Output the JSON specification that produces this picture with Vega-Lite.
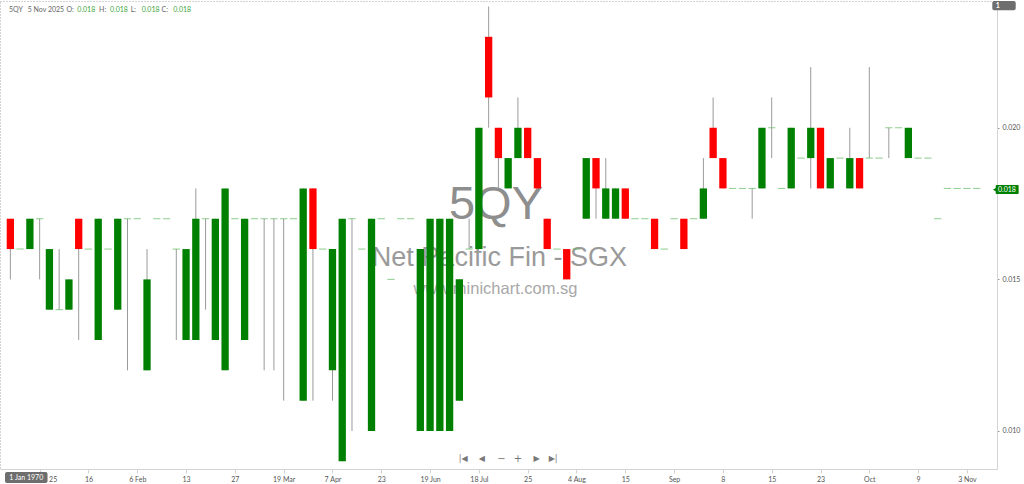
{
  "$schema": "https://vega.github.io/schema/vega-lite/v6.json",
  "width": 997,
  "height": 468,
  "autosize": {"type": "none"},
  "padding": {"left": 0, "top": 1, "right": 27, "bottom": 15},
  "background": "white",
  "data": {"values": [{}]},
  "datasets": {
    "candles": [
      {"k": 0, "o": 0.017, "h": 0.017, "l": 0.015, "c": 0.016},
      {"k": 1, "o": 0.016, "h": 0.016, "l": 0.016, "c": 0.016},
      {"k": 2, "o": 0.016, "h": 0.017, "l": 0.016, "c": 0.017},
      {"k": 3, "o": 0.017, "h": 0.017, "l": 0.015, "c": 0.017},
      {"k": 4, "o": 0.014, "h": 0.016, "l": 0.014, "c": 0.016},
      {"k": 5, "o": 0.014, "h": 0.016, "l": 0.014, "c": 0.014},
      {"k": 6, "o": 0.014, "h": 0.015, "l": 0.014, "c": 0.015},
      {"k": 7, "o": 0.017, "h": 0.017, "l": 0.013, "c": 0.016},
      {"k": 8, "o": 0.016, "h": 0.016, "l": 0.016, "c": 0.016},
      {"k": 9, "o": 0.013, "h": 0.017, "l": 0.013, "c": 0.017},
      {"k": 10, "o": 0.016, "h": 0.016, "l": 0.016, "c": 0.016},
      {"k": 11, "o": 0.014, "h": 0.017, "l": 0.014, "c": 0.017},
      {"k": 12, "o": 0.017, "h": 0.017, "l": 0.012, "c": 0.017},
      {"k": 13, "o": 0.017, "h": 0.017, "l": 0.017, "c": 0.017},
      {"k": 14, "o": 0.012, "h": 0.016, "l": 0.012, "c": 0.015},
      {"k": 15, "o": 0.017, "h": 0.017, "l": 0.017, "c": 0.017},
      {"k": 16, "o": 0.017, "h": 0.017, "l": 0.017, "c": 0.017},
      {"k": 17, "o": 0.016, "h": 0.016, "l": 0.013, "c": 0.016},
      {"k": 18, "o": 0.013, "h": 0.016, "l": 0.013, "c": 0.016},
      {"k": 19, "o": 0.013, "h": 0.018, "l": 0.013, "c": 0.017},
      {"k": 20, "o": 0.017, "h": 0.017, "l": 0.014, "c": 0.017},
      {"k": 21, "o": 0.013, "h": 0.017, "l": 0.013, "c": 0.017},
      {"k": 22, "o": 0.012, "h": 0.018, "l": 0.012, "c": 0.018},
      {"k": 23, "o": 0.017, "h": 0.017, "l": 0.017, "c": 0.017},
      {"k": 24, "o": 0.013, "h": 0.017, "l": 0.013, "c": 0.017},
      {"k": 25, "o": 0.017, "h": 0.017, "l": 0.017, "c": 0.017},
      {"k": 26, "o": 0.017, "h": 0.017, "l": 0.012, "c": 0.017},
      {"k": 27, "o": 0.017, "h": 0.017, "l": 0.012, "c": 0.017},
      {"k": 28, "o": 0.017, "h": 0.017, "l": 0.011, "c": 0.017},
      {"k": 29, "o": 0.017, "h": 0.017, "l": 0.017, "c": 0.017},
      {"k": 30, "o": 0.011, "h": 0.018, "l": 0.011, "c": 0.018},
      {"k": 31, "o": 0.018, "h": 0.018, "l": 0.011, "c": 0.016},
      {"k": 32, "o": 0.016, "h": 0.016, "l": 0.016, "c": 0.016},
      {"k": 33, "o": 0.012, "h": 0.016, "l": 0.011, "c": 0.016},
      {"k": 34, "o": 0.009, "h": 0.017, "l": 0.009, "c": 0.017},
      {"k": 35, "o": 0.017, "h": 0.017, "l": 0.010, "c": 0.017},
      {"k": 36, "o": 0.016, "h": 0.016, "l": 0.016, "c": 0.016},
      {"k": 37, "o": 0.010, "h": 0.017, "l": 0.010, "c": 0.017},
      {"k": 38, "o": 0.017, "h": 0.017, "l": 0.017, "c": 0.017},
      {"k": 39, "o": 0.015, "h": 0.015, "l": 0.015, "c": 0.015},
      {"k": 40, "o": 0.017, "h": 0.017, "l": 0.017, "c": 0.017},
      {"k": 41, "o": 0.017, "h": 0.017, "l": 0.017, "c": 0.017},
      {"k": 42, "o": 0.010, "h": 0.016, "l": 0.010, "c": 0.016},
      {"k": 43, "o": 0.010, "h": 0.017, "l": 0.010, "c": 0.017},
      {"k": 44, "o": 0.010, "h": 0.017, "l": 0.010, "c": 0.017},
      {"k": 45, "o": 0.010, "h": 0.017, "l": 0.010, "c": 0.017},
      {"k": 46, "o": 0.011, "h": 0.015, "l": 0.011, "c": 0.015},
      {"k": 47, "o": 0.016, "h": 0.017, "l": 0.016, "c": 0.016},
      {"k": 48, "o": 0.016, "h": 0.020, "l": 0.016, "c": 0.020},
      {"k": 49, "o": 0.023, "h": 0.024, "l": 0.020, "c": 0.021},
      {"k": 50, "o": 0.020, "h": 0.020, "l": 0.018, "c": 0.019},
      {"k": 51, "o": 0.018, "h": 0.019, "l": 0.018, "c": 0.019},
      {"k": 52, "o": 0.019, "h": 0.021, "l": 0.019, "c": 0.020},
      {"k": 53, "o": 0.020, "h": 0.020, "l": 0.019, "c": 0.019},
      {"k": 54, "o": 0.019, "h": 0.019, "l": 0.018, "c": 0.018},
      {"k": 55, "o": 0.017, "h": 0.017, "l": 0.016, "c": 0.016},
      {"k": 56, "o": 0.016, "h": 0.016, "l": 0.016, "c": 0.016},
      {"k": 57, "o": 0.016, "h": 0.016, "l": 0.015, "c": 0.015},
      {"k": 58, "o": 0.016, "h": 0.016, "l": 0.016, "c": 0.016},
      {"k": 59, "o": 0.017, "h": 0.019, "l": 0.017, "c": 0.019},
      {"k": 60, "o": 0.019, "h": 0.019, "l": 0.017, "c": 0.018},
      {"k": 61, "o": 0.017, "h": 0.019, "l": 0.017, "c": 0.018},
      {"k": 62, "o": 0.017, "h": 0.018, "l": 0.017, "c": 0.018},
      {"k": 63, "o": 0.018, "h": 0.018, "l": 0.017, "c": 0.017},
      {"k": 64, "o": 0.017, "h": 0.017, "l": 0.017, "c": 0.017},
      {"k": 65, "o": 0.017, "h": 0.017, "l": 0.017, "c": 0.017},
      {"k": 66, "o": 0.017, "h": 0.017, "l": 0.016, "c": 0.016},
      {"k": 67, "o": 0.016, "h": 0.016, "l": 0.016, "c": 0.016},
      {"k": 68, "o": 0.017, "h": 0.017, "l": 0.017, "c": 0.017},
      {"k": 69, "o": 0.017, "h": 0.017, "l": 0.016, "c": 0.016},
      {"k": 70, "o": 0.017, "h": 0.017, "l": 0.017, "c": 0.017},
      {"k": 71, "o": 0.017, "h": 0.019, "l": 0.017, "c": 0.018},
      {"k": 72, "o": 0.020, "h": 0.021, "l": 0.019, "c": 0.019},
      {"k": 73, "o": 0.019, "h": 0.019, "l": 0.018, "c": 0.018},
      {"k": 74, "o": 0.018, "h": 0.018, "l": 0.018, "c": 0.018},
      {"k": 75, "o": 0.018, "h": 0.018, "l": 0.018, "c": 0.018},
      {"k": 76, "o": 0.018, "h": 0.018, "l": 0.017, "c": 0.018},
      {"k": 77, "o": 0.018, "h": 0.020, "l": 0.018, "c": 0.020},
      {"k": 78, "o": 0.020, "h": 0.021, "l": 0.019, "c": 0.020},
      {"k": 79, "o": 0.018, "h": 0.018, "l": 0.018, "c": 0.018},
      {"k": 80, "o": 0.018, "h": 0.020, "l": 0.018, "c": 0.020},
      {"k": 81, "o": 0.019, "h": 0.019, "l": 0.019, "c": 0.019},
      {"k": 82, "o": 0.019, "h": 0.022, "l": 0.018, "c": 0.020},
      {"k": 83, "o": 0.020, "h": 0.020, "l": 0.018, "c": 0.018},
      {"k": 84, "o": 0.018, "h": 0.019, "l": 0.018, "c": 0.019},
      {"k": 85, "o": 0.019, "h": 0.019, "l": 0.019, "c": 0.019},
      {"k": 86, "o": 0.018, "h": 0.020, "l": 0.018, "c": 0.019},
      {"k": 87, "o": 0.019, "h": 0.019, "l": 0.018, "c": 0.018},
      {"k": 88, "o": 0.019, "h": 0.022, "l": 0.019, "c": 0.019},
      {"k": 89, "o": 0.019, "h": 0.019, "l": 0.019, "c": 0.019},
      {"k": 90, "o": 0.020, "h": 0.020, "l": 0.019, "c": 0.020},
      {"k": 91, "o": 0.020, "h": 0.020, "l": 0.020, "c": 0.020},
      {"k": 92, "o": 0.019, "h": 0.020, "l": 0.019, "c": 0.020},
      {"k": 93, "o": 0.019, "h": 0.019, "l": 0.019, "c": 0.019},
      {"k": 94, "o": 0.019, "h": 0.019, "l": 0.019, "c": 0.019},
      {"k": 95, "o": 0.017, "h": 0.017, "l": 0.017, "c": 0.017},
      {"k": 96, "o": 0.018, "h": 0.018, "l": 0.018, "c": 0.018},
      {"k": 97, "o": 0.018, "h": 0.018, "l": 0.018, "c": 0.018},
      {"k": 98, "o": 0.018, "h": 0.018, "l": 0.018, "c": 0.018},
      {"k": 99, "o": 0.018, "h": 0.018, "l": 0.018, "c": 0.018}
    ]
  },
  "layer": [
    {
      "mark": {"type": "text", "font": "Liberation Sans", "fontSize": 47, "color": "#8e8e8e", "align": "center", "baseline": "alphabetic"},
      "encoding": {
        "x": {"datum": 49.75, "type": "quantitative"},
        "y": {"datum": 0.017005, "type": "quantitative"},
        "text": {"value": "5QY"}
      }
    },
    {
      "mark": {"type": "text", "font": "Liberation Sans", "fontSize": 27, "color": "#9a9a9a", "align": "center", "baseline": "alphabetic"},
      "encoding": {
        "x": {"datum": 50.1, "type": "quantitative"},
        "y": {"datum": 0.015439, "type": "quantitative"},
        "text": {"value": "Net Pacific Fin - SGX"}
      }
    },
    {
      "mark": {"type": "text", "font": "Liberation Sans", "fontSize": 16.5, "color": "#a8a8a8", "align": "center", "baseline": "alphabetic"},
      "encoding": {
        "x": {"datum": 49.7, "type": "quantitative"},
        "y": {"datum": 0.014505, "type": "quantitative"},
        "text": {"value": "www.minichart.com.sg"}
      }
    },
    {
      "data": {"name": "candles"},
      "mark": {"type": "rule", "color": "#9a9a9a", "strokeWidth": 1},
      "encoding": {
        "x": {
          "field": "k", "type": "quantitative",
          "scale": {"domain": [-0.55, 100.57], "nice": false, "zero": false},
          "axis": {
            "title": null, "grid": false,
            "values": [3, 8, 13, 18, 23, 28, 33, 38, 43, 48, 53, 58, 63, 68, 73, 78, 83, 88, 93, 98],
            "labelExpr": "['25','16','6 Feb','13','27','19 Mar','7 Apr','23','19 Jun','18 Jul','25','4 Aug','15','Sep','8','15','23','Oct','9','3 Nov'][round((datum.value - 3) / 5)]",
            "labelOffset": {"condition": {"test": "datum.value == 3", "value": 13}, "value": 0},
            "domainColor": "#d4d4d4", "tickColor": "#d4d4d4", "tickSize": 4,
            "labelFont": "Lato", "labelFontSize": 7, "labelColor": "#555555", "labelPadding": 2
          }
        },
        "y": {
          "field": "l", "type": "quantitative",
          "scale": {"domain": [0.008746, 0.024181], "nice": false, "zero": false},
          "axis": {
            "title": null, "grid": false, "orient": "right",
            "values": [0.010, 0.015, 0.020], "format": ".3f",
            "domainColor": "#d4d4d4", "tickColor": "#999999", "tickSize": 2,
            "labelFont": "Lato", "labelFontSize": 7, "labelColor": "#555555", "labelPadding": 3
          }
        },
        "y2": {"field": "h"}
      }
    },
    {
      "data": {"name": "candles"},
      "transform": [{"filter": "datum.o != datum.c"}],
      "mark": {"type": "bar", "width": 7.3},
      "encoding": {
        "x": {"field": "k", "type": "quantitative"},
        "y": {"field": "o", "type": "quantitative"},
        "y2": {"field": "c"},
        "color": {"condition": {"test": "datum.c > datum.o", "value": "#008000"}, "value": "#ff0000"}
      }
    },
    {
      "data": {"name": "candles"},
      "transform": [{"filter": "datum.o == datum.c"}],
      "mark": {"type": "tick", "orient": "horizontal", "size": 7.3, "thickness": 1, "color": "#5cb85c"},
      "encoding": {
        "x": {"field": "k", "type": "quantitative"},
        "y": {"field": "c", "type": "quantitative"}
      }
    },
    {
      "mark": {"type": "text", "font": "Lato", "fontSize": 7, "color": "#666666", "align": "left", "baseline": "middle"},
      "encoding": {"x": {"datum": -0.14, "type": "quantitative"}, "y": {"datum": 0.023872, "type": "quantitative"}, "text": {"value": "5QY"}}
    },
    {
      "mark": {"type": "text", "font": "Lato", "fontSize": 7, "color": "#666666", "align": "left", "baseline": "middle"},
      "encoding": {"x": {"datum": 1.78, "type": "quantitative"}, "y": {"datum": 0.023872, "type": "quantitative"}, "text": {"value": "5 Nov 2025"}}
    },
    {
      "mark": {"type": "text", "font": "Lato", "fontSize": 7, "color": "#666666", "align": "left", "baseline": "middle"},
      "encoding": {"x": {"datum": 5.74, "type": "quantitative"}, "y": {"datum": 0.023872, "type": "quantitative"}, "text": {"value": "O:"}}
    },
    {
      "mark": {"type": "text", "font": "Lato", "fontSize": 7, "color": "#3da83d", "align": "left", "baseline": "middle"},
      "encoding": {"x": {"datum": 6.86, "type": "quantitative"}, "y": {"datum": 0.023872, "type": "quantitative"}, "text": {"value": "0.018"}}
    },
    {
      "mark": {"type": "text", "font": "Lato", "fontSize": 7, "color": "#666666", "align": "left", "baseline": "middle"},
      "encoding": {"x": {"datum": 9.09, "type": "quantitative"}, "y": {"datum": 0.023872, "type": "quantitative"}, "text": {"value": "H:"}}
    },
    {
      "mark": {"type": "text", "font": "Lato", "fontSize": 7, "color": "#3da83d", "align": "left", "baseline": "middle"},
      "encoding": {"x": {"datum": 10.2, "type": "quantitative"}, "y": {"datum": 0.023872, "type": "quantitative"}, "text": {"value": "0.018"}}
    },
    {
      "mark": {"type": "text", "font": "Lato", "fontSize": 7, "color": "#666666", "align": "left", "baseline": "middle"},
      "encoding": {"x": {"datum": 12.33, "type": "quantitative"}, "y": {"datum": 0.023872, "type": "quantitative"}, "text": {"value": "L:"}}
    },
    {
      "mark": {"type": "text", "font": "Lato", "fontSize": 7, "color": "#3da83d", "align": "left", "baseline": "middle"},
      "encoding": {"x": {"datum": 13.45, "type": "quantitative"}, "y": {"datum": 0.023872, "type": "quantitative"}, "text": {"value": "0.018"}}
    },
    {
      "mark": {"type": "text", "font": "Lato", "fontSize": 7, "color": "#666666", "align": "left", "baseline": "middle"},
      "encoding": {"x": {"datum": 15.48, "type": "quantitative"}, "y": {"datum": 0.023872, "type": "quantitative"}, "text": {"value": "C:"}}
    },
    {
      "mark": {"type": "text", "font": "Lato", "fontSize": 7, "color": "#3da83d", "align": "left", "baseline": "middle"},
      "encoding": {"x": {"datum": 16.69, "type": "quantitative"}, "y": {"datum": 0.023872, "type": "quantitative"}, "text": {"value": "0.018"}}
    },
    {
      "mark": {"type": "text", "font": "DejaVu Sans", "fontSize": 8, "color": "#777777", "align": "center", "baseline": "middle"},
      "encoding": {"x": {"datum": 46.4, "type": "quantitative"}, "y": {"datum": 0.009076, "type": "quantitative"}, "text": {"value": "|◀"}}
    },
    {
      "mark": {"type": "text", "font": "DejaVu Sans", "fontSize": 8, "color": "#777777", "align": "center", "baseline": "middle"},
      "encoding": {"x": {"datum": 48.3, "type": "quantitative"}, "y": {"datum": 0.009076, "type": "quantitative"}, "text": {"value": "◀"}}
    },
    {
      "mark": {"type": "text", "font": "DejaVu Sans", "fontSize": 10, "color": "#777777", "align": "center", "baseline": "middle"},
      "encoding": {"x": {"datum": 50.3, "type": "quantitative"}, "y": {"datum": 0.009076, "type": "quantitative"}, "text": {"value": "−"}}
    },
    {
      "mark": {"type": "text", "font": "DejaVu Sans", "fontSize": 10, "color": "#777777", "align": "center", "baseline": "middle"},
      "encoding": {"x": {"datum": 52.0, "type": "quantitative"}, "y": {"datum": 0.009076, "type": "quantitative"}, "text": {"value": "+"}}
    },
    {
      "mark": {"type": "text", "font": "DejaVu Sans", "fontSize": 8, "color": "#777777", "align": "center", "baseline": "middle"},
      "encoding": {"x": {"datum": 53.9, "type": "quantitative"}, "y": {"datum": 0.009076, "type": "quantitative"}, "text": {"value": "▶"}}
    },
    {
      "mark": {"type": "text", "font": "DejaVu Sans", "fontSize": 8, "color": "#777777", "align": "center", "baseline": "middle"},
      "encoding": {"x": {"datum": 55.6, "type": "quantitative"}, "y": {"datum": 0.009076, "type": "quantitative"}, "text": {"value": "▶|"}}
    },
    {
      "mark": {"type": "rect", "color": "#6e6e6e", "cornerRadius": 2},
      "encoding": {
        "x": {"datum": -0.55, "type": "quantitative"}, "x2": {"datum": 3.81},
        "y": {"datum": 0.008647, "type": "quantitative"}, "y2": {"datum": 0.008284}
      }
    },
    {
      "mark": {"type": "text", "font": "Lato", "fontSize": 7, "color": "white", "align": "center", "baseline": "middle"},
      "encoding": {"x": {"datum": 1.63, "type": "quantitative"}, "y": {"datum": 0.008465, "type": "quantitative"}, "text": {"value": "1 Jan 1970"}}
    },
    {
      "mark": {"type": "rect", "color": "#6e6e6e", "cornerRadius": 2},
      "encoding": {
        "x": {"datum": 100.6, "type": "quantitative"}, "x2": {"datum": 103.0},
        "y": {"datum": 0.02418, "type": "quantitative"}, "y2": {"datum": 0.02388}
      }
    },
    {
      "mark": {"type": "text", "font": "Lato", "fontSize": 7, "fontWeight": "bold", "color": "white", "align": "left", "baseline": "middle"},
      "encoding": {"x": {"datum": 100.95, "type": "quantitative"}, "y": {"datum": 0.02403, "type": "quantitative"}, "text": {"value": "1"}}
    },
    {
      "mark": {"type": "point", "shape": "triangle-left", "filled": true, "size": 18, "color": "#008000", "opacity": 1},
      "encoding": {"x": {"datum": 100.85, "type": "quantitative"}, "y": {"datum": 0.01796, "type": "quantitative"}}
    },
    {
      "mark": {"type": "rect", "color": "#008000", "cornerRadius": 1},
      "encoding": {
        "x": {"datum": 100.95, "type": "quantitative"}, "x2": {"datum": 103.3},
        "y": {"datum": 0.018109, "type": "quantitative"}, "y2": {"datum": 0.017812}
      }
    },
    {
      "mark": {"type": "text", "font": "Lato", "fontSize": 7, "color": "white", "align": "center", "baseline": "middle"},
      "encoding": {"x": {"datum": 102.1, "type": "quantitative"}, "y": {"datum": 0.01796, "type": "quantitative"}, "text": {"value": "0.018"}}
    }
  ],
  "config": {
    "view": {"stroke": "#a8a8a8", "strokeDash": [1, 2], "strokeWidth": 1},
    "font": "Lato"
  }
}
